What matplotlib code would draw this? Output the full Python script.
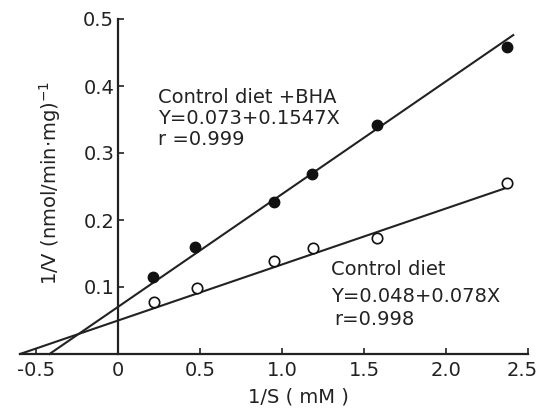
import matplotlib
matplotlib.use("Agg")
import matplotlib.pyplot as plt
import matplotlib.transforms as mtransforms

plt.rcParams['font.family'] = ['DejaVu Sans']

# Data
bha_x = [0.21, 0.47, 0.95, 1.18, 1.58, 2.37]
bha_y = [0.115, 0.160, 0.227, 0.269, 0.342, 0.458]
ctrl_x = [0.22, 0.48, 0.95, 1.19, 1.58, 2.37]
ctrl_y = [0.078, 0.098, 0.139, 0.158, 0.173, 0.255]

# Fitted lines (endpoints as drawn)
bha_line_x = [-0.42, 2.41]
bha_line_y = [0.0, 0.476]
ctrl_line_x = [-0.60, 2.38]
ctrl_line_y = [0.0, 0.249]

xticks = [-0.5, 0, 0.5, 1.0, 1.5, 2.0, 2.5]
xticklabels = ['-0.5', '0', '0.5', '1.0', '1.5', '2.0', '2.5']
yticks = [0.1, 0.2, 0.3, 0.4, 0.5]
yticklabels = ['0.1', '0.2', '0.3', '0.4', '0.5']

W, H = 542, 408
fig = plt.figure(figsize=(W / 100, H / 100), dpi=100)
ax = fig.add_axes([20 / W, 54 / H, 508 / W, 335 / H])
ax.set_xlim(-0.6, 2.5)
ax.set_ylim(0, 0.5)

for s in ['top', 'right']:
    ax.spines[s].set_visible(False)
ax.spines['left'].set_position(('data', 0))
ax.spines['bottom'].set_position(('data', 0))
for s in ['left', 'bottom']:
    ax.spines[s].set_linewidth(1.6)
    ax.spines[s].set_color('#222222')

ax.plot(bha_line_x, bha_line_y, color='#222222', lw=1.5, clip_on=False)
ax.plot(ctrl_line_x, ctrl_line_y, color='#222222', lw=1.5, clip_on=False)
ax.plot(bha_x, bha_y, 'o', color='#111111', ms=7.5, clip_on=False, zorder=3)
ax.plot(ctrl_x, ctrl_y, 'o', mfc='white', mec='#111111', mew=1.2, ms=7.5,
        clip_on=False, zorder=3)

ax.set_xticks(xticks)
ax.set_xticklabels(xticklabels)
ax.set_yticks(yticks)
ax.set_yticklabels(yticklabels)
ax.tick_params(axis='both', direction='in', length=4, width=1.2,
               labelsize=14, colors='#222222')
ax.tick_params(axis='x', pad=5)
ax.tick_params(axis='y', pad=3)

# nudge the last x tick label inward so it stays inside the canvas
last = ax.get_xticklabels()[-1]
last.set_transform(last.get_transform() +
                   mtransforms.ScaledTranslation(-6 / 100, 0, fig.dpi_scale_trans))

fig.text(50 / W, 1 - 183 / H, r'1/V (nmol/min$\cdot$mg)$^{-1}$', rotation=90,
         ha='center', va='center', fontsize=14, color='#222222')
fig.text(298 / W, 1 - 397 / H, '1/S ( mM )', ha='center', va='center',
         fontsize=14, color='#222222')

ax.text(0.24, 0.375, 'Control diet +BHA', fontsize=14, color='#222222')
ax.text(0.24, 0.343, 'Y=0.073+0.1547X', fontsize=14, color='#222222')
ax.text(0.24, 0.312, 'r =0.999', fontsize=14, color='#222222')

ax.text(1.30, 0.118, 'Control diet', fontsize=14, color='#222222')
ax.text(1.30, 0.077, 'Y=0.048+0.078X', fontsize=14, color='#222222')
ax.text(1.32, 0.044, 'r=0.998', fontsize=14, color='#222222')

fig.savefig('out.png', dpi=100)
